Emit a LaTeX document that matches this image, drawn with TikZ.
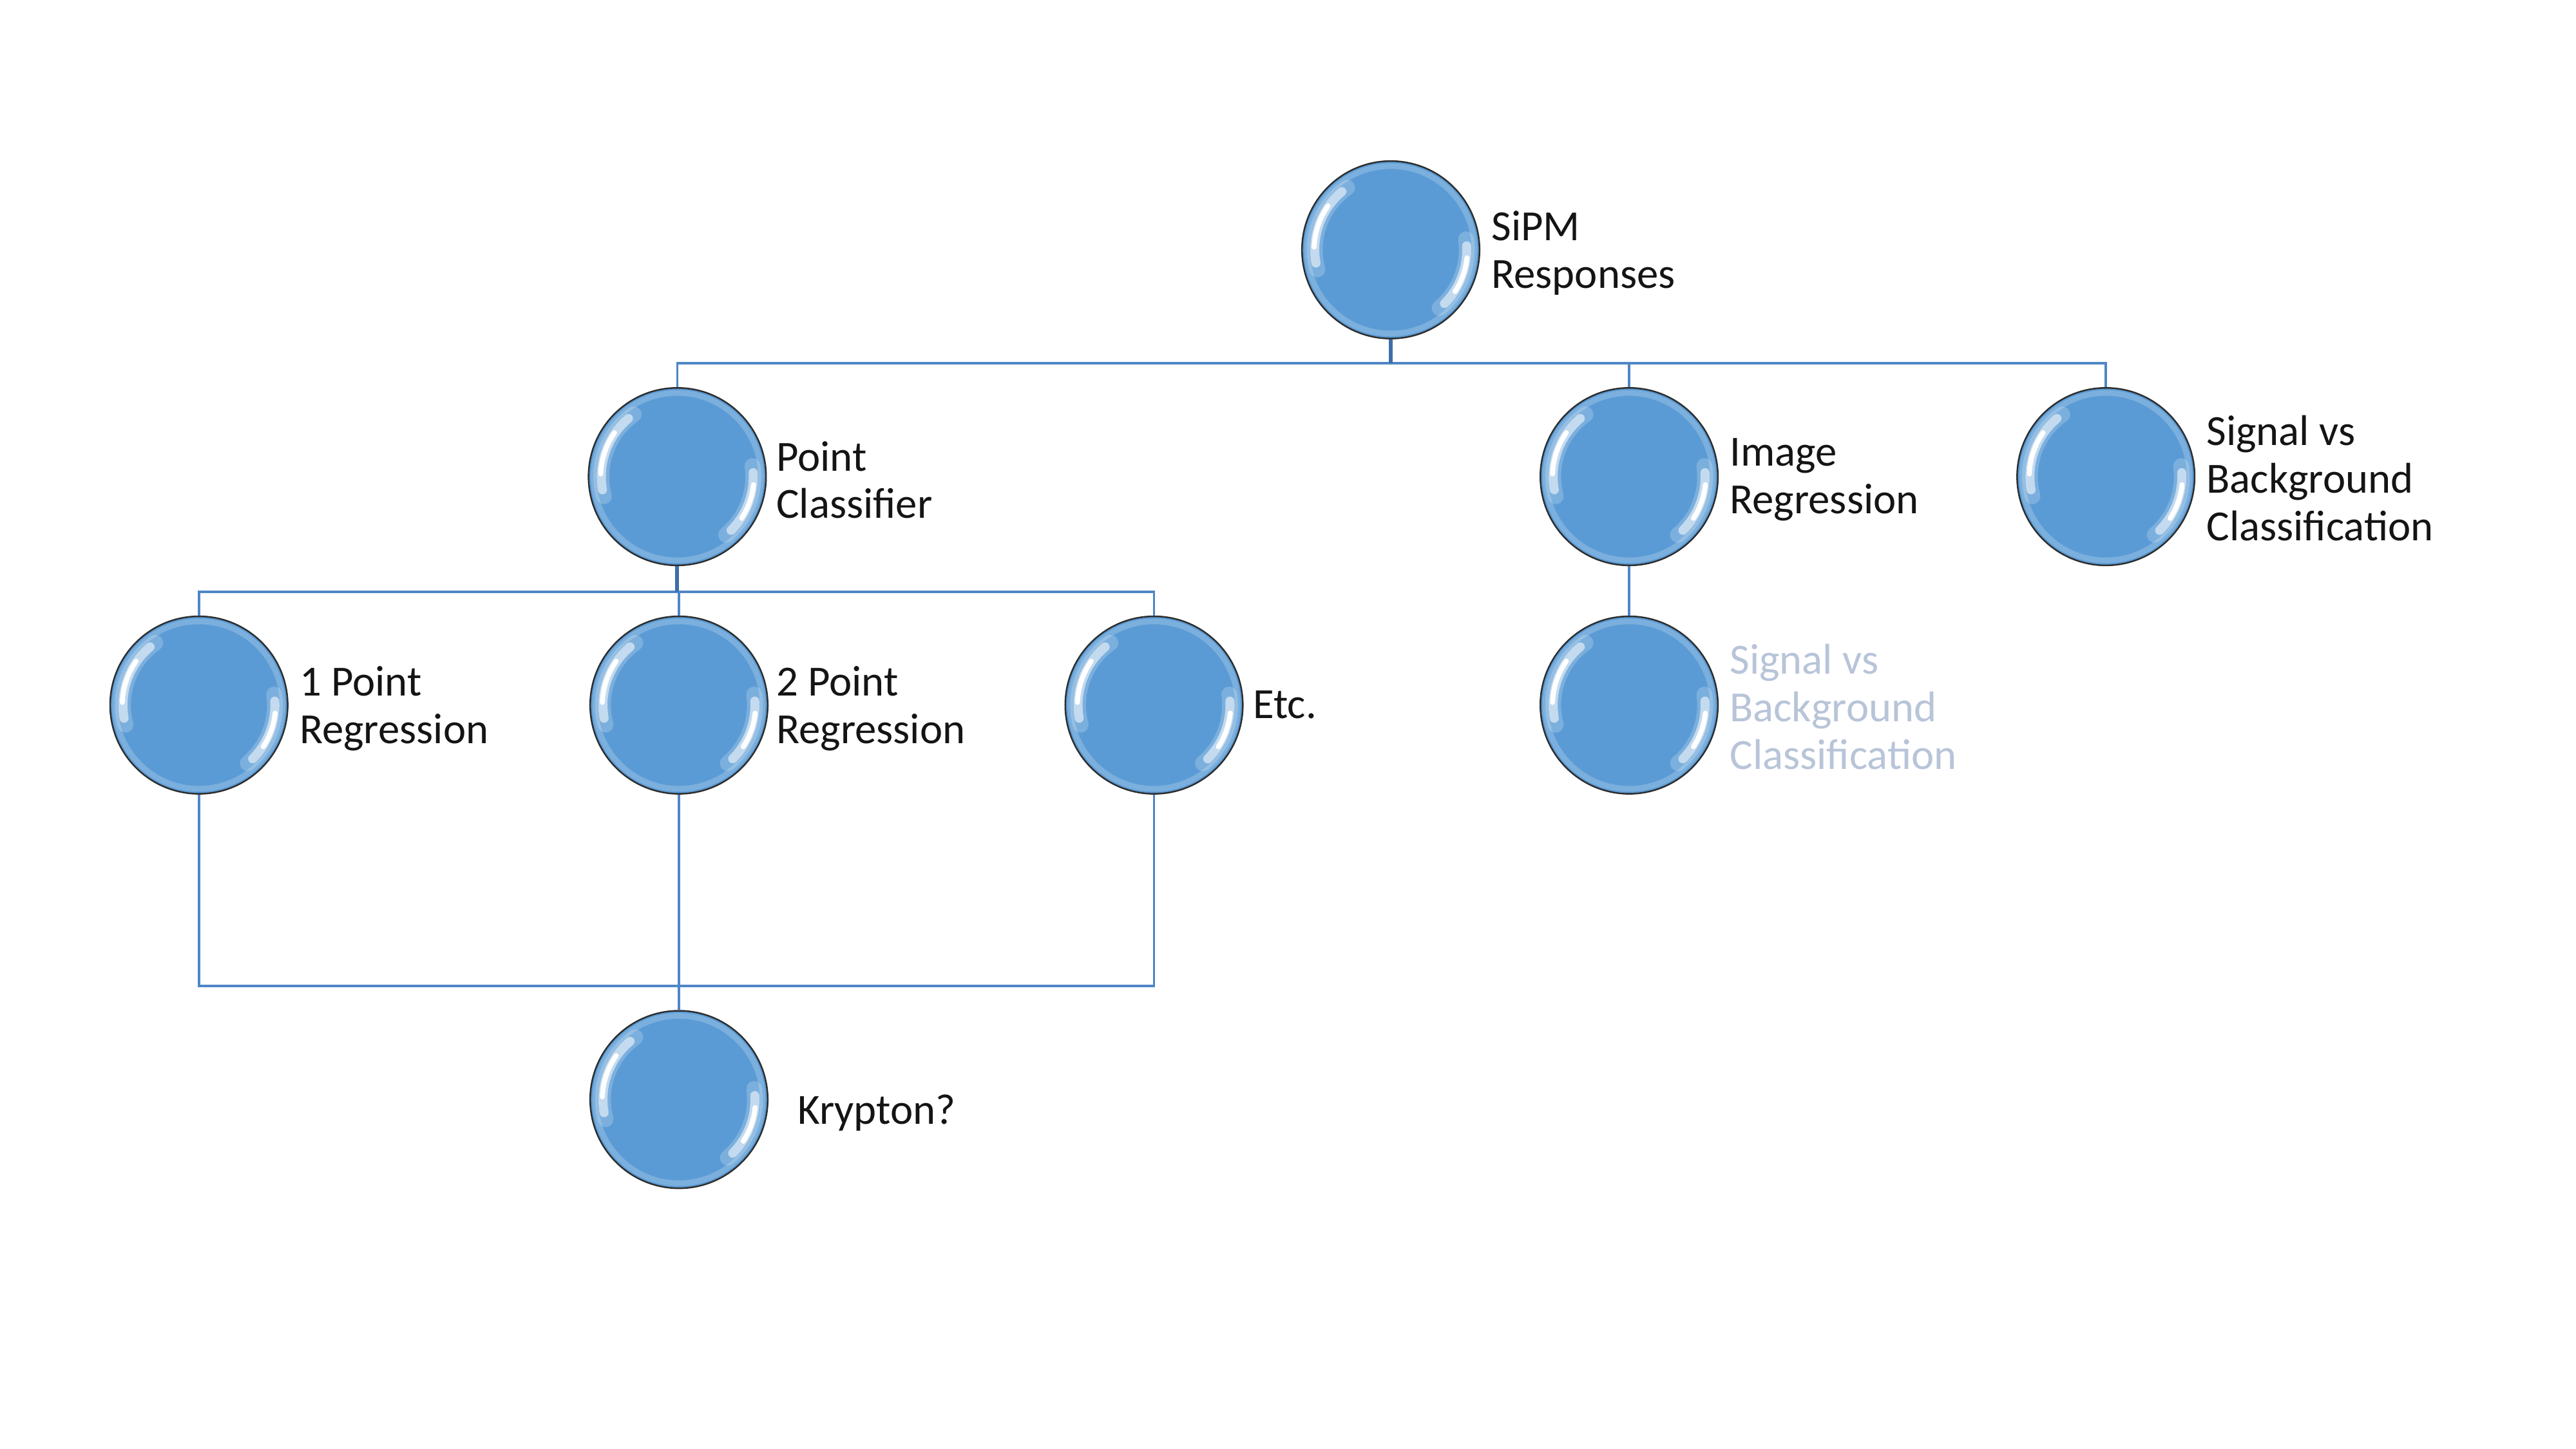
\documentclass[tikz,border=0pt]{standalone}
\usepackage{fontspec}
\setmainfont{Carlito}
\definecolor{bubfill}{RGB}{91,155,213}
\definecolor{bubline}{RGB}{45,45,45}
\definecolor{conn}{RGB}{79,134,198}
\definecolor{conndark}{RGB}{60,110,170}
\definecolor{txt}{RGB}{20,20,20}
\definecolor{txtgray}{RGB}{184,196,216}
\tikzset{
  bubble/.style={circle, fill=bubfill, draw=bubline, line width=0.7pt, minimum size=2.757cm, inner sep=0pt},
  hlwide/.style={white, line width=7pt, line cap=round, opacity=0.2},
  hlmid/.style={white, line width=4pt, line cap=round, opacity=0.55},
  hlcore/.style={white, line width=2.2pt, line cap=round, opacity=1},
  rim/.style={white, line width=2.5pt, opacity=0.2},
  lbl/.style={anchor=west, inner sep=0pt, align=left, text=txt, font=\fontsize{19}{21}\selectfont},
  glbl/.style={lbl, text=txtgray},
  wire/.style={draw=conn, line width=1.1pt},
  wirethick/.style={draw=conndark, line width=1.7pt}
}
\newcommand\bub[3]{%
  \node[bubble] (#1) at (#2,#3) {};
  \begin{scope}[shift={(#1.center)}, x=1cm, y=1cm]
    \draw[rim] (0,0) circle[radius=1.3];
    \draw[hlwide] (125:1.18) arc[start angle=125, end angle=195, radius=1.18];
    \draw[hlwide] (-50:1.18) arc[start angle=-50, end angle=8, radius=1.18];
    \draw[hlmid] (130:1.18) arc[start angle=130, end angle=190, radius=1.18];
    \draw[hlmid] (-45:1.18) arc[start angle=-45, end angle=3, radius=1.18];
    \draw[hlcore] (145:1.19) arc[start angle=145, end angle=178, radius=1.19];
    \draw[hlcore] (-33:1.19) arc[start angle=-33, end angle=-6, radius=1.19];
  \end{scope}}
\begin{document}
\begin{tikzpicture}[x=0.025527cm, y=-0.025527cm]
\useasboundingbox[fill=white] (0,0) rectangle (1567,881.3);
% bubbles
\bub{sipm}{846}{152}
\bub{pc}{412}{290}
\bub{ir}{991}{290}
\bub{svb}{1281}{290}
\bub{pa}{121}{429}
\bub{pb}{413}{429}
\bub{etc}{702}{429}
\bub{gs}{991}{429}
\bub{kr}{413}{669}
% bus points
\coordinate (b1) at (846,221);
\coordinate (b2) at (412,360);
\coordinate (b3) at (413,600);
% connectors
\draw[wire] (pc.north) -- (pc.north |- b1) -- (svb.north |- b1) -- (svb.north);
\draw[wire] (ir.north) -- (ir.north |- b1);
\draw[wirethick] (sipm.south) -- (b1);
\draw[wire] (pa.north) -- (pa.north |- b2) -- (etc.north |- b2) -- (etc.north);
\draw[wire] (pb.north) -- (pb.north |- b2);
\draw[wirethick] (pc.south) -- (b2);
\draw[wire] (ir.south) -- (gs.north);
\draw[wire] (pa.south) -- (pa.south |- b3) -- (etc.south |- b3) -- (etc.south);
\draw[wire] (pb.south) -- (kr.north);
% labels
\node[lbl] (tsipm) at (907,154) {SiPM\\Responses};
\node[lbl] (tpc) at (472,292) {Point\\Classifier};
\node[lbl] (tir) at (1052,292) {Image\\Regression};
\node[lbl] (tsvb) at (1342,291) {Signal vs\\Background\\Classification};
\node[lbl] (tpa) at (182,431) {1 Point\\Regression};
\node[lbl] (tpb) at (472,431) {2 Point\\Regression};
\node[lbl] (tetc) at (762,429) {Etc.};
\node[glbl] (tgs) at (1052,430) {Signal vs\\Background\\Classification};
\node[lbl] (tkr) at (485,677) {Krypton?};
\end{tikzpicture}
\end{document}
